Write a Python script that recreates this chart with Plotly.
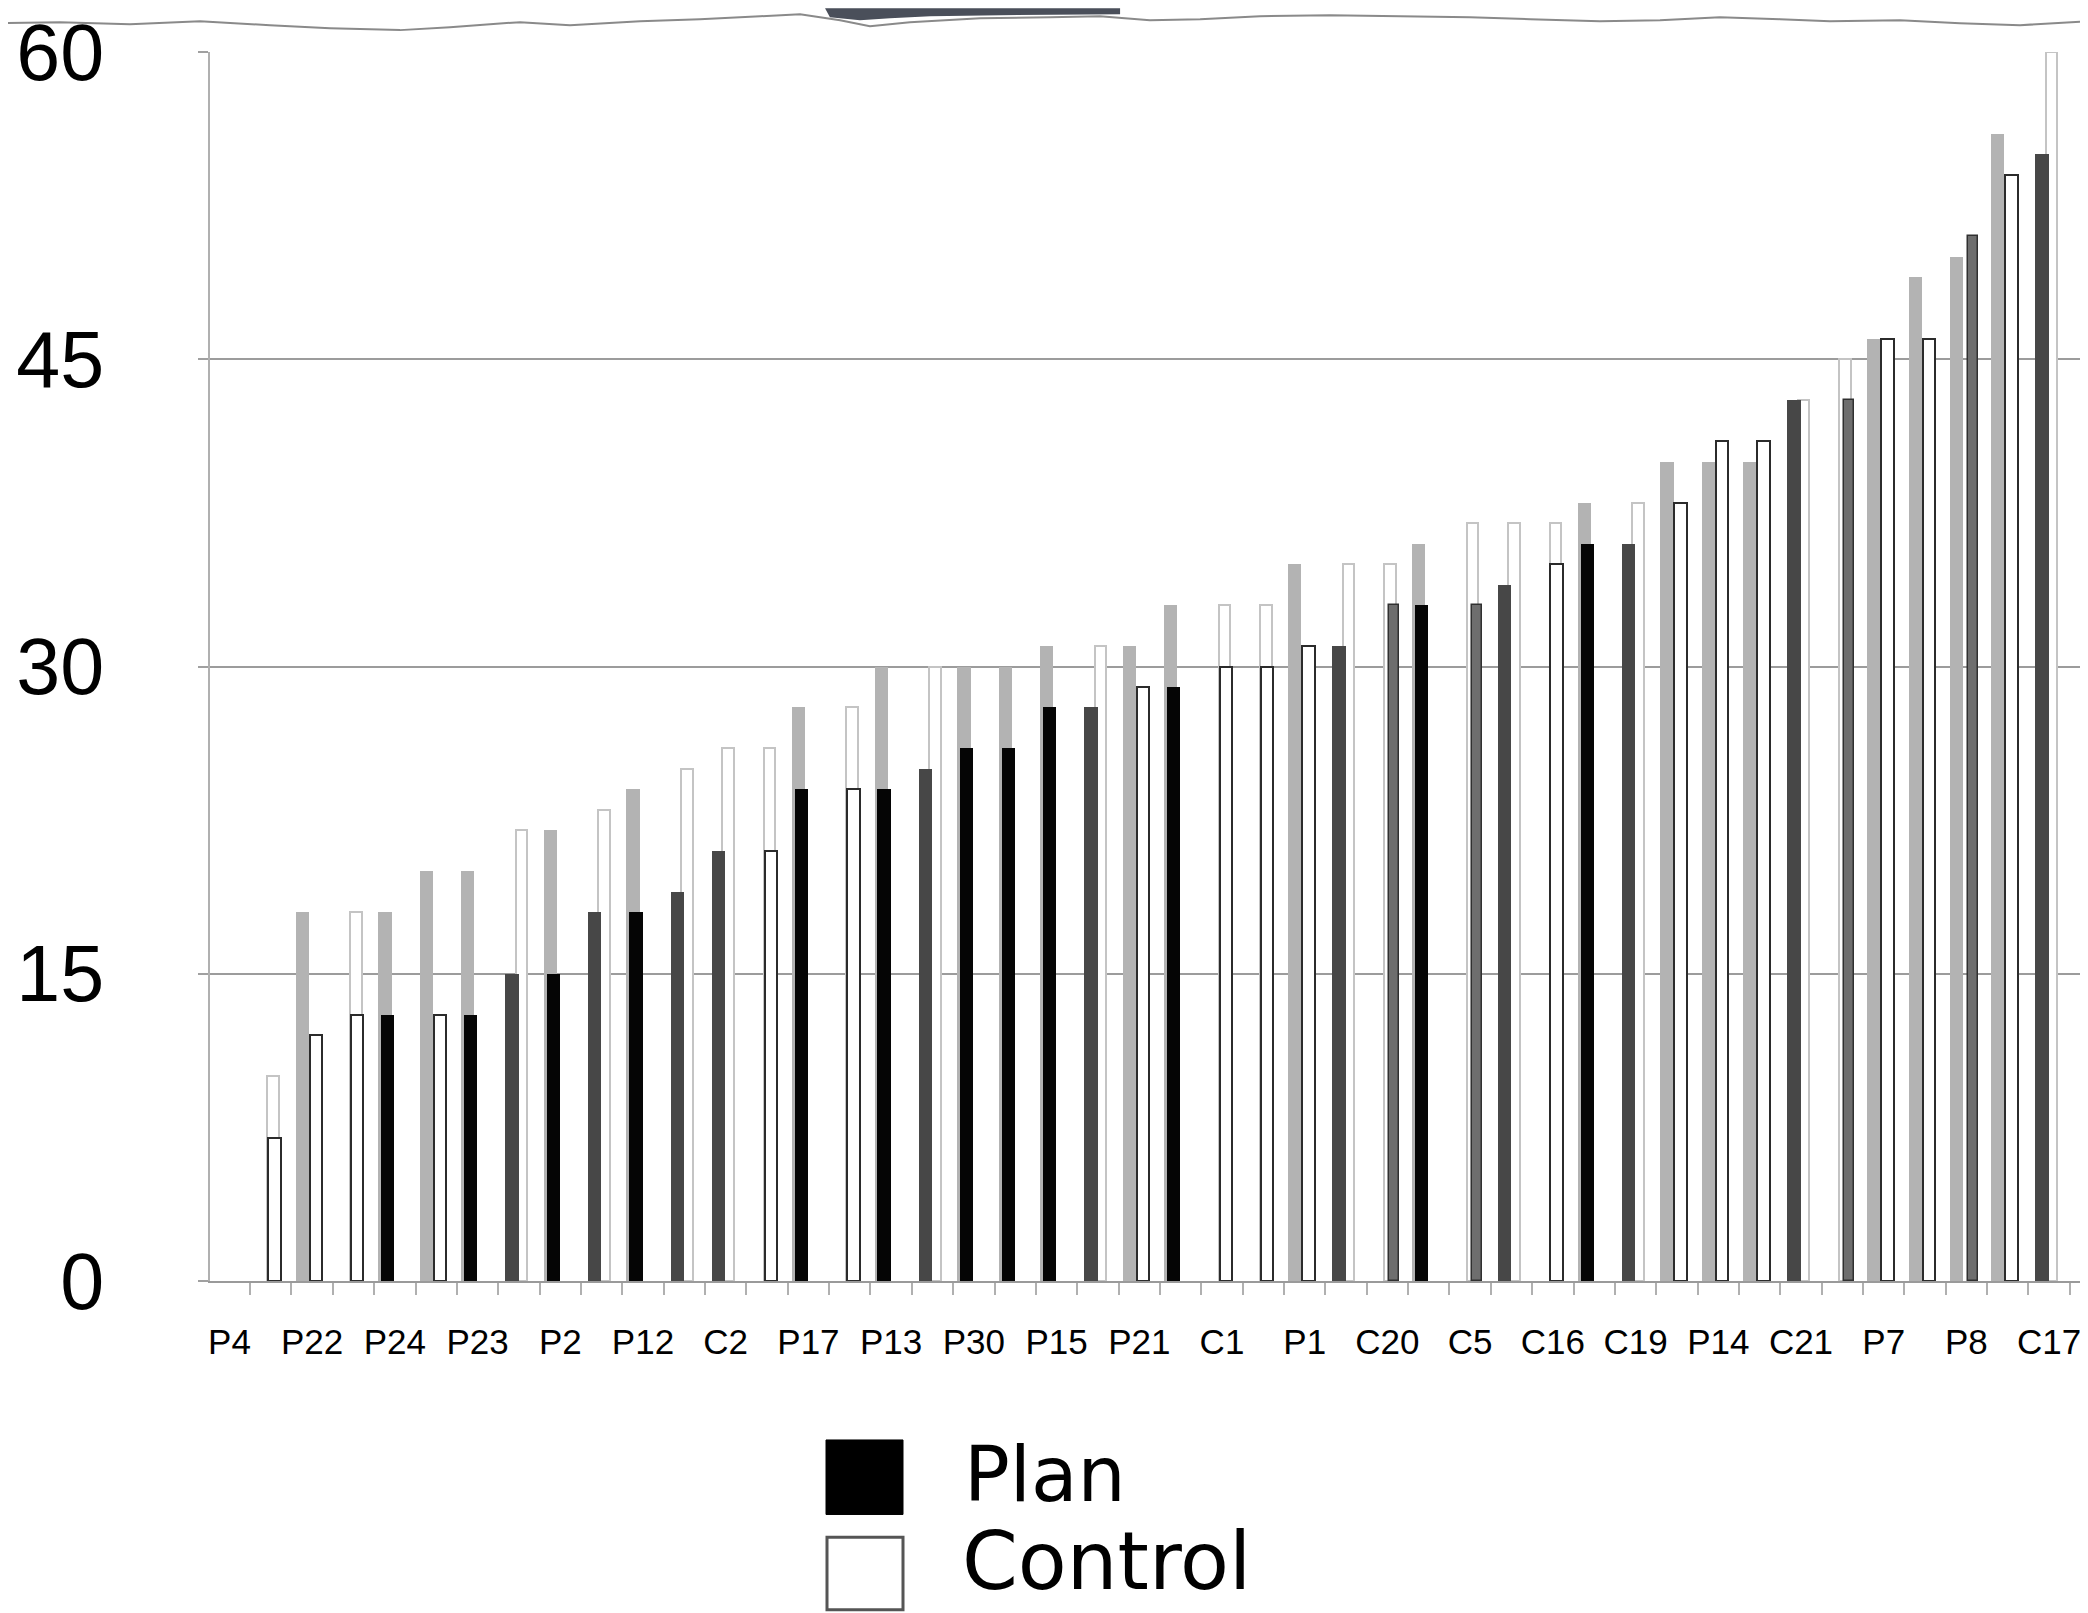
import plotly.graph_objects as go

# ---------------- data ----------------
# 45 participant slots, labelled every other slot
tick_labels = ["P4", "P22", "P24", "P23", "P2", "P12", "C2", "P17", "P13", "P30",
               "P15", "P21", "C1", "P1", "C20", "C5", "C16", "C19", "P14", "C21",
               "P7", "P8", "C17"]

# taller (background) bar per slot and its group
back_values = [None, 10, 18, 18, 18, 20, 20, 22, 22, 23, 24, 25, 26, 26, 28, 28, 30, 30,
               30, 30, 31, 31, 31, 33, 33, 33, 35, 35, 35, 36, 37, 37, 37, 38, 38, 40,
               40, 40, 43, 45, 46, 49, 50, 56, 60]
back_groups = ["", "C", "P", "C", "P", "P", "P", "C", "P", "C", "P", "C", "C", "C", "P", "C",
               "P", "C", "P", "P", "P", "C", "P", "P", "C", "C", "P", "C", "C", "P", "C",
               "C", "C", "P", "C", "P", "P", "P", "C", "C", "P", "P", "P", "P", "C"]

# foreground bar per slot and its group (P = Plan, C = Control, M = mixed shade)
front_values = [None, 7, 12, 13, 13, 13, 13, 15, 15, 18, 18, 19, 21, 21, 24, 24, 24, 25,
                26, 26, 28, 28, 29, 29, 30, 30, 31, 31, 33, 33, 33, 34, 35, 36, 36, 38,
                41, 41, 43, 43, 46, 46, 51, 54, 55]
front_groups = ["", "C", "C", "C", "P", "C", "P", "P", "P", "P", "P", "P", "P", "C", "P", "C",
                "P", "P", "P", "P", "P", "P", "C", "P", "C", "C", "C", "P", "M", "P", "M",
                "P", "C", "P", "P", "C", "C", "C", "P", "M", "C", "C", "M", "C", "P"]

legend_names = ["Plan", "Control"]
y_ticks = [0, 15, 30, 45, 60]

# ---------------- figure ----------------
n = len(back_values)
idx = list(range(n))


def pick(values, groups, g):
    xs, ys = [], []
    for i, v, gg in zip(idx, values, groups):
        if gg == g and v is not None:
            xs.append(i)
            ys.append(v)
    return xs, ys


fig = go.Figure()

# background bars
bx, by = pick(back_values, back_groups, "P")
fig.add_trace(go.Bar(x=bx, y=by, offset=-0.40, width=0.32,
                     marker=dict(color="#b3b3b3", line=dict(width=0)),
                     showlegend=False, hoverinfo="x+y"))
bx, by = pick(back_values, back_groups, "C")
fig.add_trace(go.Bar(x=bx, y=by, offset=-0.08, width=0.28,
                     marker=dict(color="white", line=dict(color="#c4c4c4", width=2)),
                     showlegend=False, hoverinfo="x+y"))

# foreground Plan bars (darker grey when drawn over a Control background)
fx, fy = pick(front_values, front_groups, "P")
fcol = ["#050505" if back_groups[i] == "P" else "#474747" for i in fx]
fig.add_trace(go.Bar(x=fx, y=fy, offset=-0.33, width=0.32,
                     marker=dict(color=fcol, line=dict(width=0)),
                     name=legend_names[0], showlegend=False, hoverinfo="x+y"))
# mixed-shade bars
fx, fy = pick(front_values, front_groups, "M")
fig.add_trace(go.Bar(x=fx, y=fy, offset=0.04, width=0.25,
                     marker=dict(color="#6e6e6e", line=dict(color="#303030", width=1.5)),
                     showlegend=False, hoverinfo="x+y"))
# foreground Control bars
fx, fy = pick(front_values, front_groups, "C")
fig.add_trace(go.Bar(x=fx, y=fy, offset=-0.06, width=0.30,
                     marker=dict(color="white", line=dict(color="#2b2b2b", width=2)),
                     name=legend_names[1], showlegend=False, hoverinfo="x+y"))

label_pos = list(range(0, n, 2))
boundaries = [i - 0.5 for i in range(n + 1)]

# the page places the figure 8px from the top-left corner
fig.update_layout(
    width=2080, height=1605,
    margin=dict(l=202, r=0, t=36, b=332),
    paper_bgcolor="white", plot_bgcolor="white",
    barmode="overlay", bargap=0,
    showlegend=False,
    xaxis=dict(
        range=[-0.47, 44.94],
        tickmode="array", tickvals=label_pos, ticktext=tick_labels,
        ticks="", ticklabelstandoff=29, ticklabeloverflow="allow",
        tickfont=dict(family="Liberation Sans, Arial, sans-serif", size=35, color="black"),
        showgrid=False, zeroline=False,
        showline=True, linecolor="#9a9a9a", linewidth=2,
        minor=dict(tickmode="array", tickvals=boundaries, ticks="outside",
                   ticklen=12, tickcolor="#b0b0b0", tickwidth=2),
    ),
    yaxis=dict(
        range=[0, 60],
        tickmode="array", tickvals=y_ticks,
        ticks="outside", ticklen=10, tickcolor="#a0a0a0", tickwidth=2,
        ticklabelstandoff=78, ticklabeloverflow="allow",
        tickfont=dict(family="Liberation Sans, Arial, sans-serif", size=79, color="black"),
        showgrid=True, gridcolor="#9c9c9c", gridwidth=2,
        zeroline=False,
        showline=True, linecolor="#b0b0b0", linewidth=2,
    ),
)

# helpers: page pixel -> paper coordinates (plot area spans page x 210..2088, y 44..1281)
W = 2088 - 210.0
H = 1281 - 44.0


def px_x(x):
    return (x - 210) / W


def px_y(y):
    return (1281 - y) / H


# legend drawn as large swatches with text labels (as in the reference)
fig.add_shape(type="rect", xref="paper", yref="paper",
              x0=px_x(826), x1=px_x(903), y0=px_y(1516), y1=px_y(1441),
              fillcolor="black", line=dict(color="black", width=1))
fig.add_shape(type="rect", xref="paper", yref="paper",
              x0=px_x(827), x1=px_x(903), y0=px_y(1612), y1=px_y(1539),
              fillcolor="white", line=dict(color="#555555", width=3))
fig.add_annotation(xref="paper", yref="paper", x=px_x(962), y=px_y(1476),
                   text=legend_names[0], showarrow=False, xanchor="left", yanchor="middle",
                   font=dict(family="DejaVu Sans, Verdana, sans-serif", size=76, color="black"))
fig.add_annotation(xref="paper", yref="paper", x=px_x(960), y=px_y(1612),
                   text=legend_names[1], showarrow=False, xanchor="left", yanchor="bottom",
                   font=dict(family="DejaVu Sans, Verdana, sans-serif", size=80, color="black"))

# scanned-page edge at the top
edge_pts = [(0, 15), (60, 14), (130, 16), (200, 13), (270, 17), (330, 20), (400, 22),
            (450, 19), (520, 14), (570, 17), (640, 13), (700, 11), (760, 8), (800, 6),
            (840, 12), (870, 18), (910, 14), (980, 10), (1050, 9), (1100, 8), (1150, 12),
            (1200, 11), (1260, 8), (1330, 7), (1400, 8), (1470, 9), (1530, 11), (1600, 13),
            (1660, 12), (1720, 9), (1780, 11), (1830, 13), (1900, 12), (1960, 15),
            (2020, 17), (2088, 13)]
edge = "M " + " L ".join(f"{px_x(x):.4f} {px_y(y):.4f}" for x, y in edge_pts)
fig.add_shape(type="path", xref="paper", yref="paper", path=edge,
              line=dict(color="#8a8a8a", width=2))
blob = [(825, 0), (830, 9), (860, 12), (890, 10), (930, 8), (1000, 7), (1120, 6), (1120, 0)]
fig.add_shape(type="path", xref="paper", yref="paper",
              path="M " + " L ".join(f"{px_x(x):.4f} {px_y(y):.4f}" for x, y in blob) + " Z",
              fillcolor="#4a4f5a", line=dict(width=0))

fig.write_html("out.html")
